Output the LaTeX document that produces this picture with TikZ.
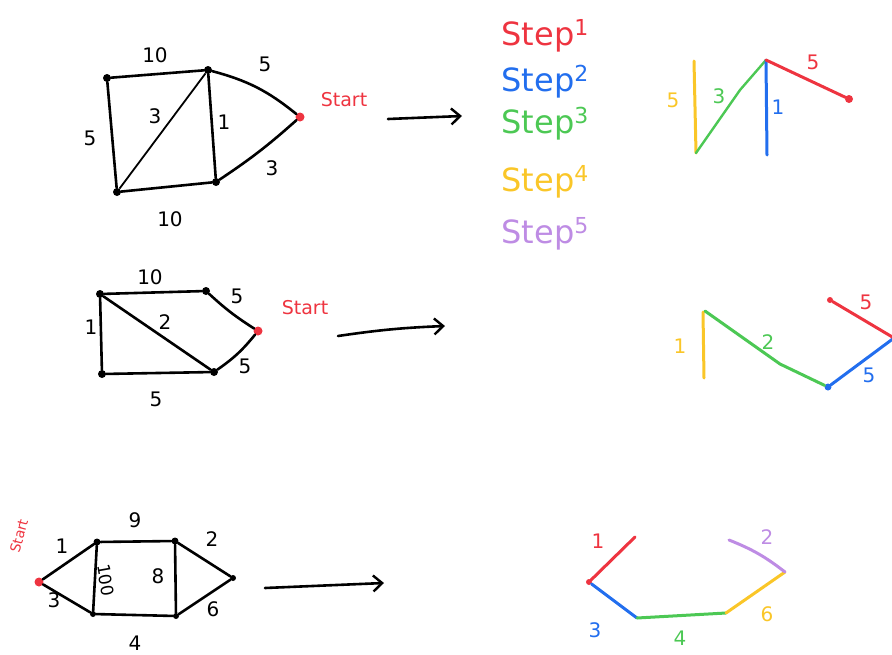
\documentclass[tikz,border=0pt]{standalone}
\usepackage{fontspec}
\setmainfont{DejaVu Sans}
\usetikzlibrary{arrows.meta}
\definecolor{cred}{RGB}{238,52,64}
\definecolor{cblue}{RGB}{34,110,238}
\definecolor{cgreen}{RGB}{76,200,84}
\definecolor{cyellow}{RGB}{250,198,40}
\definecolor{cpurple}{RGB}{190,140,228}
\tikzset{
  vtx/.style={circle,fill=black,inner sep=0pt,minimum size=8pt},
  svtx/.style={circle,fill=cred,inner sep=0pt,minimum size=9pt},
  edge/.style={line width=2.6pt,line cap=round},
  cedge/.style={line width=3pt,line cap=round},
  lbl/.style={font=\fontsize{20}{20}\selectfont},
  startlbl/.style={font=\fontsize{19}{19}\selectfont,text=cred},
  steplbl/.style={font=\fontsize{32}{32}\selectfont,anchor=west},
  bigarrow/.style={line width=2.6pt,line cap=round,-{Straight Barb[length=9pt,width=16pt,line width=2.4pt]}}
}
\newcommand{\stepnum}[1]{\raisebox{10pt}{\fontsize{22}{22}\selectfont #1}}
\begin{document}
\begin{tikzpicture}[x=1pt,y=-1pt]
\useasboundingbox (0,0) rectangle (892,654);
% ---------- Graph 1 ----------
\node[vtx] (a1) at (107,78) {};
\node[vtx] (b1) at (208,70) {};
\node[vtx] (c1) at (117,192) {};
\node[vtx] (d1) at (216,182) {};
\node[svtx] (s1) at (300,117) {};
\draw[edge] (a1) -- (b1);
\draw[edge] (a1) -- (c1);
\draw[line width=1.8pt] (b1) -- (c1);
\draw[edge] (b1) -- (d1);
\draw[edge] (c1) -- (d1);
\draw[edge] (b1) to[bend left=12] (s1);
\draw[edge] (d1) to[bend right=4] (s1);
\node[lbl] (l1a) at (155,55) {10};
\node[lbl] (l1b) at (90,138) {5};
\node[lbl] (l1c) at (155,116) {3};
\node[lbl] (l1d) at (224,122) {1};
\node[lbl] (l1e) at (170,219) {10};
\node[lbl] (l1f) at (265,64) {5};
\node[lbl] (l1g) at (272,168) {3};
\node[startlbl] (st1) at (344,100) {Start};
\coordinate (ar1a) at (388,119);
\coordinate (ar1b) at (462,116);
\draw[bigarrow] (ar1a) -- (ar1b);
% ---------- Legend ----------
\node[steplbl,text=cred] (s1l) at (498,36) {Step\stepnum{1}};
\node[steplbl,text=cblue] (s2l) at (498,82) {Step\stepnum{2}};
\node[steplbl,text=cgreen] (s3l) at (498,124) {Step\stepnum{3}};
\node[steplbl,text=cyellow] (s4l) at (498,182) {Step\stepnum{4}};
\node[steplbl,text=cpurple] (s5l) at (498,234) {Step\stepnum{5}};
% ---------- Result 1 ----------
\coordinate (r1a) at (694,61);
\coordinate (r1b) at (696,153);
\coordinate (r1c) at (766,60);
\coordinate (r1d) at (767,155);
\node[svtx,minimum size=8pt] (r1e) at (849,99) {};
\draw[cedge,cyellow] (r1a) -- (r1b);
\draw[cedge,cgreen,line width=2.4pt] (r1b) -- (740,90) -- (r1c);
\draw[cedge,cblue] (r1c) -- (r1d);
\draw[cedge,cred] (r1c) -- (r1e);
\node[lbl,text=cyellow] (r1l1) at (673,100) {5};
\node[lbl,text=cgreen] (r1l2) at (719,96) {3};
\node[lbl,text=cblue] (r1l3) at (778,107) {1};
\node[lbl,text=cred] (r1l4) at (813,62) {5};
% ---------- Graph 2 ----------
\node[vtx] (a2) at (100,294) {};
\node[vtx] (b2) at (206,291) {};
\node[vtx] (c2) at (102,374) {};
\node[vtx] (d2) at (214,372) {};
\node[svtx] (s2) at (258,331) {};
\draw[edge] (a2) -- (b2);
\draw[edge] (a2) -- (c2);
\draw[edge] (a2) -- (d2);
\draw[edge] (c2) -- (d2);
\draw[edge] (b2) to[bend right=5] (s2);
\draw[edge] (d2) to[bend right=8] (s2);
\node[lbl] (l2a) at (150,277) {10};
\node[lbl] (l2b) at (91,327) {1};
\node[lbl] (l2c) at (165,322) {2};
\node[lbl] (l2d) at (156,399) {5};
\node[lbl] (l2e) at (237,296) {5};
\node[lbl] (l2f) at (245,366) {5};
\node[startlbl] (st2) at (305,308) {Start};
\coordinate (ar2a) at (338,336);
\coordinate (ar2b) at (445,326);
\draw[bigarrow] (ar2a) to[bend left=3] (ar2b);
% ---------- Result 2 ----------
\coordinate (r2a) at (703,312);
\coordinate (r2b) at (704,378);
\coordinate (r2c) at (705,311);
\node[circle,fill=cblue,inner sep=0pt,minimum size=7pt] (r2d) at (828,387) {};
\coordinate (r2e) at (894,338);
\node[circle,fill=cred,inner sep=0pt,minimum size=6pt] (r2f) at (830,300) {};
\draw[cedge,cyellow] (r2a) -- (r2b);
\draw[cedge,cgreen] (r2c) -- (780,364) -- (r2d);
\draw[cedge,cblue] (r2d) -- (r2e);
\draw[cedge,cred] (r2f) -- (r2e);
\node[lbl,text=cyellow] (r2l1) at (680,346) {1};
\node[lbl,text=cgreen] (r2l2) at (768,342) {2};
\node[lbl,text=cblue] (r2l3) at (869,375) {5};
\node[lbl,text=cred] (r2l4) at (866,302) {5};
% ---------- Graph 3 ----------
\node[svtx] (s3) at (39,582) {};
\node[vtx,minimum size=7pt] (p3) at (97,542) {};
\node[vtx,minimum size=7pt] (q3) at (175,541) {};
\node[vtx,minimum size=6pt] (r3) at (233,578) {};
\node[vtx,minimum size=6pt] (t3) at (93,614) {};
\node[vtx,minimum size=6pt] (u3) at (176,616) {};
\draw[edge] (s3) -- (p3);
\draw[edge] (s3) -- (t3);
\draw[edge] (p3) -- (q3);
\draw[edge] (p3) -- (t3);
\draw[edge] (q3) -- (u3);
\draw[edge] (q3) -- (r3);
\draw[edge] (u3) -- (r3);
\draw[edge] (t3) -- (u3);
\node[lbl] (l3a) at (62,546) {1};
\node[lbl] (l3b) at (54,600) {3};
\node[lbl] (l3c) at (135,520) {9};
\node[lbl,rotate=-80,font=\fontsize{17}{17}\selectfont] (l3d) at (106,580) {100};
\node[lbl] (l3e) at (158,576) {8};
\node[lbl] (l3f) at (212,539) {2};
\node[lbl] (l3g) at (213,609) {6};
\node[lbl] (l3h) at (135,643) {4};
\node[startlbl,rotate=75,font=\fontsize{14}{14}\selectfont] (st3) at (19,536) {Start};
\coordinate (ar3a) at (265,588);
\coordinate (ar3b) at (384,583);
\draw[bigarrow] (ar3a) -- (ar3b);
% ---------- Result 3 ----------
\node[circle,fill=cred,inner sep=0pt,minimum size=6pt] (r3a) at (589,582) {};
\coordinate (r3b) at (635,537);
\coordinate (r3c) at (637,618);
\coordinate (r3d) at (726,613);
\coordinate (r3e) at (785,572);
\coordinate (r3f) at (729,540);
\draw[cedge,cred] (r3a) -- (r3b);
\draw[cedge,cblue] (r3a) -- (r3c);
\draw[cedge,cgreen] (r3c) -- (r3d);
\draw[cedge,cyellow] (r3d) -- (r3e);
\draw[cedge,cpurple] (r3f) to[bend left=8] (r3e);
\node[lbl,text=cred] (r3l1) at (598,541) {1};
\node[lbl,text=cblue] (r3l2) at (595,630) {3};
\node[lbl,text=cgreen] (r3l3) at (680,638) {4};
\node[lbl,text=cyellow] (r3l4) at (767,614) {6};
\node[lbl,text=cpurple] (r3l5) at (767,537) {2};
\end{tikzpicture}
\end{document}
